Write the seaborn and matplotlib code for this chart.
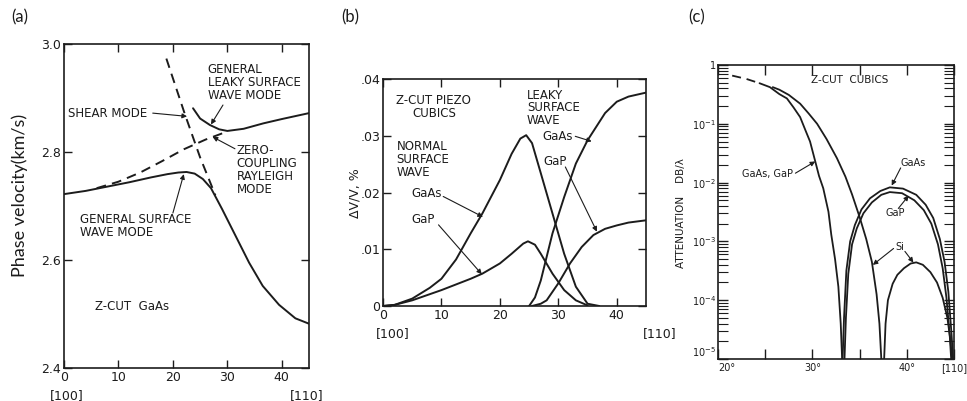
import numpy as np
import pandas as pd
import matplotlib
matplotlib.use("Agg")
import matplotlib.pyplot as plt
import seaborn as sns

# ---------------- data ----------------
# (a) Z-cut GaAs phase velocity (km/s) vs angle from [100] (deg)
a_surf_x = [0, 4, 8, 12, 16, 19, 21, 22.5, 24, 25.5, 27, 29, 31.5, 34, 36.5, 39.5, 42.5, 45]
a_surf_y = [2.722, 2.728, 2.736, 2.744, 2.753, 2.759, 2.762, 2.763, 2.760, 2.750, 2.733, 2.695,
            2.645, 2.595, 2.552, 2.517, 2.492, 2.482]
a_leaky_x = [23.7, 25, 26.8, 28.5, 30, 33, 36.6, 40, 45]
a_leaky_y = [2.881, 2.862, 2.850, 2.842, 2.839, 2.843, 2.853, 2.861, 2.872]
a_rayl_x = [6, 10, 14, 18, 22, 26, 30]
a_rayl_y = [2.733, 2.745, 2.762, 2.783, 2.805, 2.823, 2.838]
a_shear_x = [18.8, 22.2, 25, 27.8]
a_shear_y = [2.973, 2.870, 2.790, 2.720]
a_yticks = [2.4, 2.6, 2.8, 3.0]
a_ylabels = ["2.4", "2.6", "2.8", "3.0"]
a_xticks = [0, 10, 20, 30, 40]

# (b) dV/V (%) vs angle
b_ns_gaas_x = [0, 2, 5, 8, 10, 12.5, 15, 17, 20, 22, 23.5, 24.5, 25.5, 27, 29, 31, 33, 35, 37]
b_ns_gaas_y = [0, 0.0002, 0.0013, 0.0032, 0.0048, 0.0082, 0.0128, 0.0163, 0.0222, 0.0268,
               0.0295, 0.0301, 0.0287, 0.0234, 0.0163, 0.0092, 0.0034, 0.0004, 0]
b_ns_gap_x = [0, 2, 5, 10, 15, 17, 20, 22, 24, 24.8, 26, 27, 29, 31, 33, 35]
b_ns_gap_y = [0, 0.0002, 0.0010, 0.0028, 0.0048, 0.0057, 0.0075, 0.0092, 0.0110, 0.0114,
              0.0108, 0.0092, 0.0057, 0.0028, 0.0010, 0.0001]
b_lk_gaas_x = [25, 26, 27, 29, 31, 33, 35, 38, 40, 42, 45]
b_lk_gaas_y = [0, 0.0015, 0.0045, 0.0128, 0.0192, 0.0251, 0.0292, 0.0340, 0.0360, 0.0369, 0.0376]
b_lk_gap_x = [25.5, 27, 28, 30, 32, 34, 36, 38, 40, 42, 45]
b_lk_gap_y = [0, 0.0004, 0.0010, 0.0040, 0.0075, 0.0104, 0.0125, 0.0136, 0.0142, 0.0147, 0.0151]
b_yticks = [0, 0.01, 0.02, 0.03, 0.04]
b_ylabels = ["0", ".01", ".02", ".03", ".04"]
b_xticks = [0, 10, 20, 30, 40]

# (c) attenuation dB/lambda vs angle (log scale)
c_gg_dash_x = [21.5, 23.0, 24.4]
c_gg_dash_y = [0.66, 0.58, 0.49]
c_gg_x = [24.4, 25.5, 26.5, 27.3, 28.0, 28.7, 29.3, 29.75, 30.3, 30.7, 31.15, 31.7, 32.0,
          32.4, 32.75, 33.0, 33.15]
c_gg_y = [0.49, 0.42, 0.32, 0.27, 0.19, 0.13, 0.075, 0.05, 0.023, 0.013, 0.008, 0.0032,
          0.0013, 5e-4, 1.7e-4, 4e-5, 1e-5]
c_si_x = [25.8, 26.5, 27.5, 28.7, 29.6, 30.5, 31.5, 32.6, 33.5, 34.2, 35.0, 35.7, 36.3,
          36.8, 37.1, 37.3]
c_si_y = [0.42, 0.38, 0.31, 0.22, 0.15, 0.10, 0.055, 0.026, 0.0126, 0.0063, 0.0026,
          0.0011, 4.5e-4, 1.26e-4, 4e-5, 1e-5]
c_gaas_x = [33.2, 33.35, 33.6, 34.0, 34.5, 35.2, 36.1, 37.2, 38.2, 39.6, 41.0, 42.0, 42.8,
            43.5, 44.0, 44.4, 44.75, 44.9]
c_gaas_y = [1e-5, 5e-5, 3.2e-4, 1e-3, 1.9e-3, 3.5e-3, 5.4e-3, 7.2e-3, 8.3e-3, 7.9e-3,
            6.2e-3, 4.2e-3, 2.5e-3, 1.1e-3, 4.5e-4, 1.4e-4, 2.5e-5, 1e-5]
c_gap_x = [33.4, 33.55, 33.8, 34.2, 34.7, 35.4, 36.3, 37.3, 38.2, 39.5, 40.8, 41.8, 42.6,
           43.3, 43.8, 44.2, 44.55, 44.7]
c_gap_y = [1e-5, 5e-5, 2.8e-4, 8.9e-4, 1.66e-3, 3.0e-3, 4.6e-3, 6.2e-3, 6.9e-3, 6.6e-3,
           5.0e-3, 3.4e-3, 2.0e-3, 8.9e-4, 3.5e-4, 1.1e-4, 2.5e-5, 1e-5]
c_sih_x = [37.6, 37.75, 38.0, 38.5, 39.0, 39.7, 40.4, 41.0, 41.7, 42.5, 43.2, 43.8, 44.3,
           44.6, 44.8]
c_sih_y = [1e-5, 4e-5, 1e-4, 1.9e-4, 2.7e-4, 3.5e-4, 4.2e-4, 4.4e-4, 4.0e-4, 3.0e-4,
           2.0e-4, 1.1e-4, 5e-5, 2.2e-5, 1e-5]
c_yticks = [1e-5, 1e-4, 1e-3, 1e-2, 1e-1, 1]
c_ylabels = [r"$10^{-5}$", r"$10^{-4}$", r"$10^{-3}$", r"$10^{-2}$", r"$10^{-1}$", "1"]
c_xticks = [20, 30, 40, 45]
c_xlabels = ["20°", "30°", "40°", "[110]"]

# ---------------- style ----------------
sns.set_theme(style="ticks")
plt.rcParams["font.family"] = ["DejaVu Sans"]
INK = "#1c1c1c"
plt.rcParams["text.color"] = INK
plt.rcParams["axes.edgecolor"] = INK
plt.rcParams["xtick.color"] = INK
plt.rcParams["ytick.color"] = INK

fig = plt.figure(figsize=(9.67, 4.01), dpi=100)
W, H = 967.0, 401.0


def add_ax(l, t, r, b):
    return fig.add_axes([l / W, 1 - b / H, (r - l) / W, (b - t) / H])


axa = add_ax(64, 44, 309, 368)
axb = add_ax(383, 79, 646, 306)
axc = add_ax(718, 65, 954, 359)


def curve(ax, x, y, dashed=False, lw=1.4):
    kw = dict(color=INK, lw=lw, sort=False, estimator=None)
    if dashed:
        kw["linestyle"] = (0, (5, 3.2))
    sns.lineplot(x=x, y=y, ax=ax, **kw)


ARROW = dict(arrowstyle="-|>", color=INK, lw=0.8, mutation_scale=7, shrinkA=0, shrinkB=0)


def note(ax, text, xy_text, xy_tip=None, fs=8.5, ha="left", va="center", ls=1.0):
    if xy_tip is None:
        ax.text(xy_text[0], xy_text[1], text, fontsize=fs, ha=ha, va=va, linespacing=ls)
    else:
        ax.annotate("", xy=xy_tip, xytext=xy_text, arrowprops=ARROW)


for ax in (axa, axb, axc):
    for s in ax.spines.values():
        s.set_linewidth(1.2)
        s.set_color(INK)
        s.set_visible(True)

# ---------------- (a) ----------------
curve(axa, a_surf_x, a_surf_y)
curve(axa, a_leaky_x, a_leaky_y)
curve(axa, a_rayl_x, a_rayl_y, dashed=True)
curve(axa, a_shear_x, a_shear_y, dashed=True)
axa.set_xlim(0, 45)
axa.set_ylim(2.4, 3.0)
axa.set_yticks(a_yticks, a_ylabels)
axa.set_xticks(a_xticks, [str(v) for v in a_xticks])
axa.tick_params(direction="in", top=True, right=True, length=6, width=1.0, labelsize=9, pad=2)
axa.set_xlabel("")
axa.set_ylabel("")

note(axa, "SHEAR MODE", (0.7, 2.872))
note(axa, "", (16.3, 2.872), (22.6, 2.866))
note(axa, "GENERAL\nLEAKY SURFACE\nWAVE MODE", (26.4, 2.928))
note(axa, "", (29.2, 2.887), (27.0, 2.851))
note(axa, "ZERO-\nCOUPLING\nRAYLEIGH\nMODE", (31.7, 2.767))
note(axa, "", (31.4, 2.806), (27.3, 2.828))
note(axa, "GENERAL SURFACE\nWAVE MODE", (2.9, 2.663))
note(axa, "", (20.0, 2.687), (22.0, 2.759))
note(axa, "Z-CUT  GaAs", (5.7, 2.513))
axa.annotate("[100]", xy=(0.5, 0), xycoords=("data", "axes fraction"), xytext=(0, -15),
             textcoords="offset points", ha="center", va="top", fontsize=9)
axa.annotate("[110]", xy=(44.5, 0), xycoords=("data", "axes fraction"), xytext=(0, -15),
             textcoords="offset points", ha="center", va="top", fontsize=9)

# ---------------- (b) ----------------
curve(axb, b_ns_gaas_x, b_ns_gaas_y)
curve(axb, b_ns_gap_x, b_ns_gap_y)
curve(axb, b_lk_gaas_x, b_lk_gaas_y)
curve(axb, b_lk_gap_x, b_lk_gap_y)
axb.set_xlim(0, 45)
axb.set_ylim(0, 0.04)
axb.set_yticks(b_yticks, b_ylabels)
axb.set_xticks(b_xticks, [str(v) for v in b_xticks])
axb.tick_params(direction="in", top=True, right=True, length=6, width=1.0, labelsize=9, pad=2)
axb.set_xlabel("")
axb.set_ylabel("")

note(axb, "Z-CUT PIEZO\nCUBICS", (8.7, 0.0351), ha="center")
note(axb, "NORMAL\nSURFACE\nWAVE", (2.3, 0.0259))
note(axb, "GaAs", (4.9, 0.0199))
note(axb, "", (10.3, 0.0193), (17.1, 0.0157))
note(axb, "GaP", (4.9, 0.0152))
note(axb, "", (9.5, 0.0143), (16.9, 0.0056))
note(axb, "LEAKY\nSURFACE\nWAVE", (24.6, 0.0349), ls=0.92)
note(axb, "GaAs", (27.2, 0.0298))
note(axb, "", (32.9, 0.0299), (35.7, 0.0290))
note(axb, "GaP", (27.5, 0.0255))
note(axb, "", (31.2, 0.0245), (36.6, 0.0131))
axb.annotate("[100]", xy=(1.7, 0), xycoords=("data", "axes fraction"), xytext=(0, -15),
             textcoords="offset points", ha="center", va="top", fontsize=9)
axb.annotate("[110]", xy=(44.5, 0), xycoords=("data", "axes fraction"), xytext=(0, -15),
             textcoords="offset points", ha="left", va="top", fontsize=9)

# ---------------- (c) ----------------
axc.set_yscale("log")
curve(axc, c_gg_dash_x, c_gg_dash_y, dashed=True, lw=1.3)
curve(axc, c_gg_x, c_gg_y, lw=1.3)
curve(axc, c_si_x, c_si_y, lw=1.3)
curve(axc, c_gaas_x, c_gaas_y, lw=1.3)
curve(axc, c_gap_x, c_gap_y, lw=1.3)
curve(axc, c_sih_x, c_sih_y, lw=1.3)
axc.set_xlim(20, 45)
axc.set_ylim(1e-5, 1)
axc.set_yticks(c_yticks, c_ylabels)
axc.set_xticks(c_xticks, c_xlabels)
axc.set_xticks([25, 35], minor=True)
axc.tick_params(axis="both", which="major", direction="in", top=True, right=True,
                length=7, width=1.0, labelsize=7, pad=1.5)
axc.tick_params(axis="y", which="minor", direction="in", right=True, left=True,
                length=7, width=0.8)
axc.tick_params(axis="x", which="minor", direction="in", top=True, length=7, width=1.0)
axc.tick_params(axis="x", which="major", pad=3)
axc.get_xticklabels()[0].set_horizontalalignment("left")
axc.get_yticklabels()[0].set_verticalalignment("bottom")
axc.set_xlabel("")
axc.set_ylabel("")

note(axc, "Z-CUT  CUBICS", (34.0, 0.556), ha="center", fs=7.5)
note(axc, "GaAs, GaP", (22.5, 10 ** -1.86), fs=7)
note(axc, "", (28.2, 10 ** -1.84), (30.3, 10 ** -1.64))
note(axc, "GaAs", (39.3, 10 ** -1.67), fs=7)
note(axc, "", (39.35, 10 ** -1.75), (38.4, 10 ** -2.05))
note(axc, "GaP", (37.7, 10 ** -2.52), fs=7)
note(axc, "", (39.1, 10 ** -2.44), (40.2, 10 ** -2.22))
note(axc, "Si", (38.75, 10 ** -3.09), fs=7)
note(axc, "", (38.6, 10 ** -3.12), (36.4, 10 ** -3.40))
note(axc, "", (39.8, 10 ** -3.17), (40.7, 10 ** -3.36))

# ---------------- figure-level text ----------------
fig.text(355 / W, 1 - 193 / H, "ΔV/V, %", rotation=90, ha="center", va="center", fontsize=9)
fig.text(681 / W, 1 - 213 / H, "ATTENUATION    DB/λ", rotation=90, ha="center", va="center",
         fontsize=7.5)
fig.text(20 / W, 1 - 195 / H, "Phase velocity(km/s)", rotation=90, ha="center", va="center",
         fontsize=13, family=["Lato", "DejaVu Sans"])
fig.text(20 / W, 1 - 17 / H, "(a)", ha="center", va="center", fontsize=12,
         family=["Lato", "DejaVu Sans"])
fig.text(350 / W, 1 - 17 / H, "(b)", ha="center", va="center", fontsize=12,
         family=["Lato", "DejaVu Sans"])
fig.text(697 / W, 1 - 17 / H, "(c)", ha="center", va="center", fontsize=12,
         family=["Lato", "DejaVu Sans"])

fig.savefig("out.png", dpi=100)
